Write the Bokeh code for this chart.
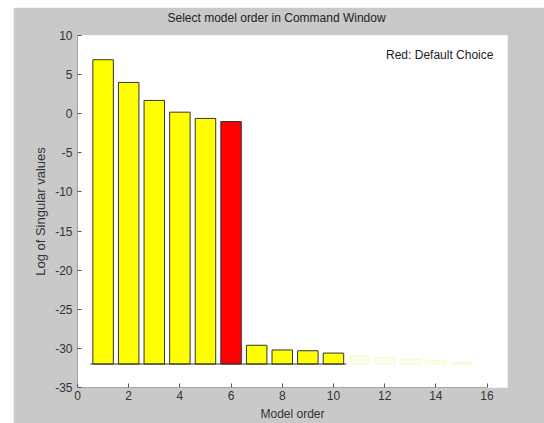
from bokeh.plotting import figure
from bokeh.models import Range1d, FixedTicker, ColumnDataSource, Label, Title, Spacer
from bokeh.layouts import row, column
from bokeh.embed import file_html
from bokeh.resources import INLINE

# data
orders = [1, 2, 3, 4, 5, 6, 7, 8, 9, 10]
log_sv = [6.9, 4.0, 1.7, 0.2, -0.6, -1.0, -29.6, -30.2, -30.3, -30.6]
bar_colors = ["#ffff00"] * 5 + ["#ff0000"] + ["#ffff00"] * 4
faint_orders = [11, 12, 13, 14, 15]
faint_sv = [-31.0, -31.2, -31.4, -31.6, -31.8]
baseline = -32
x_ticks = [0, 2, 4, 6, 8, 10, 12, 14, 16]
y_ticks = [10, 5, 0, -5, -10, -15, -20, -25, -30, -35]
title_text = "Select model order in Command Window"

FONT = "Liberation Sans"
GRAY = "#c9c9c9"

p = figure(width=531, height=416, output_backend="svg", toolbar_location=None,
           x_range=Range1d(0, 16.8), y_range=Range1d(-35, 10),
           min_border_left=64, min_border_top=28, min_border_right=37, min_border_bottom=32)
p.background_fill_color = "white"
p.border_fill_color = GRAY
p.outline_line_color = None
p.grid.visible = False

p.title = Title(text=title_text + "\n", align="left", offset=90,
                text_font=FONT, text_font_size="12px", text_font_style="normal",
                text_color="#222222", standoff=4, text_line_height=0.6)

for ax in (p.xaxis[0], p.yaxis[0]):
    ax.axis_line_color = None
    ax.major_tick_in = 4
    ax.major_tick_out = 0
    ax.minor_tick_line_color = None
    ax.major_tick_line_color = "#555566"
    ax.major_label_text_font = FONT
    ax.major_label_text_font_size = "12px"
    ax.major_label_text_color = "#333333"
    ax.axis_label_text_font = FONT
    ax.axis_label_text_font_size = "12px"
    ax.axis_label_text_font_style = "normal"
    ax.axis_label_text_color = "#333333"

p.xaxis.ticker = FixedTicker(ticks=x_ticks)
p.yaxis.ticker = FixedTicker(ticks=y_ticks)
p.xaxis.major_label_overrides = {t: str(t) for t in x_ticks}
p.yaxis.major_label_overrides = {t: str(t) for t in y_ticks}
p.xaxis.axis_label = "Model order"
p.yaxis.axis_label = "Log of Singular values"
p.yaxis.axis_label_text_font_size = "13px"
p.xaxis.major_label_standoff = 3
p.xaxis.axis_label_standoff = 4
p.yaxis.major_label_standoff = 5
p.yaxis.axis_label_standoff = 4

# axis lines (only spanning the tick range)
p.segment(x0=[0, 0], y0=[-35, -35], x1=[16, 0], y1=[-35, 10],
          line_color="#555566", line_width=1)

# faint trailing bars
p.vbar(x=faint_orders, top=faint_sv, bottom=baseline, width=0.8,
       fill_color="#fefef0", line_color="#f8f8c8", line_width=1)

src = ColumnDataSource(dict(x=orders, top=log_sv, color=bar_colors))
p.vbar(x="x", top="top", bottom=baseline, width=0.8, source=src,
       fill_color="color", line_color="#333333", line_width=1)

p.segment(x0=[0.5], y0=[baseline], x1=[10.5], y1=[baseline],
          line_color="#333333", line_width=1)

p.add_layout(Label(x=16.25, y=7.45, text="Red: Default Choice", text_align="right",
                   text_baseline="middle", text_font=FONT, text_font_size="12px",
                   text_color="#222222"))

layout = row(Spacer(width=13, height=423), column(Spacer(width=531, height=7), p))
open("out.html", "w").write(file_html(layout, INLINE))
